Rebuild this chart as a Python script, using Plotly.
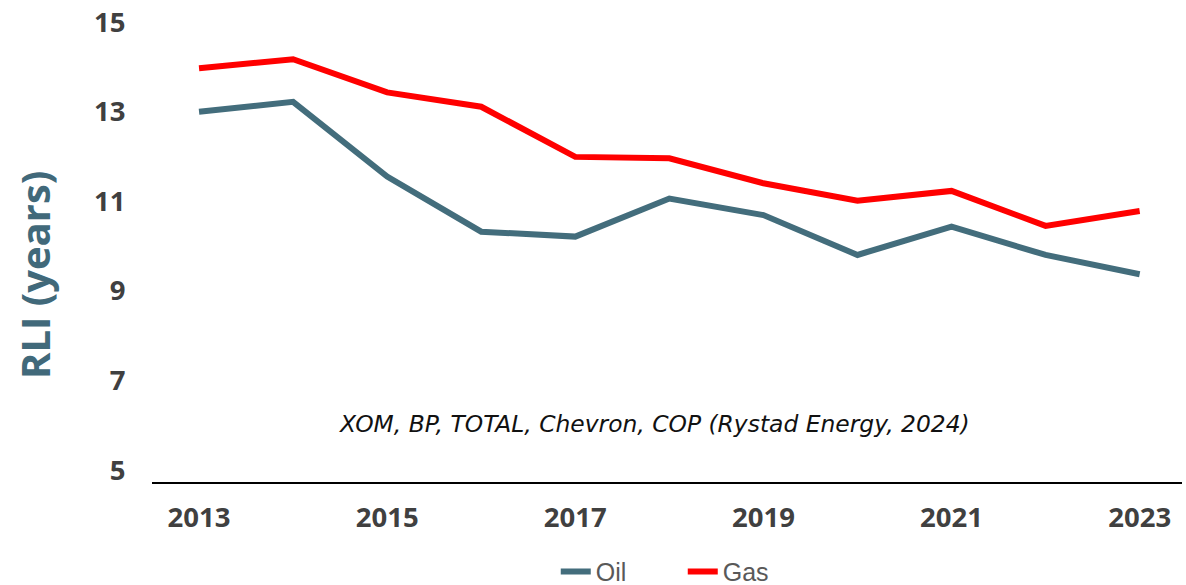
import plotly.graph_objects as go

years = [2013, 2014, 2015, 2016, 2017, 2018, 2019, 2020, 2021, 2022, 2023]
oil = [13.0, 13.22, 11.55, 10.32, 10.21, 11.06, 10.69, 9.80, 10.43, 9.80, 9.37]
gas = [13.97, 14.17, 13.43, 13.11, 11.99, 11.96, 11.40, 11.01, 11.23, 10.45, 10.78]
x_ticks = [2013, 2015, 2017, 2019, 2021, 2023]
y_ticks = [5, 7, 9, 11, 13, 15]
note = "XOM, BP, TOTAL, Chevron, COP (Rystad Energy, 2024)"
y_title = "RLI (years)"

OIL_C = "#436D7C"
GAS_C = "#FF0000"

fig = go.Figure()
fig.add_trace(go.Scatter(x=years, y=oil, mode="lines", name="Oil",
                         line=dict(color=OIL_C, width=6)))
fig.add_trace(go.Scatter(x=years, y=gas, mode="lines", name="Gas",
                         line=dict(color=GAS_C, width=6)))

tickfont = dict(family="Open Sans, Liberation Sans", size=27.5, color="#404040", weight="bold")

fig.update_layout(
    width=1186, height=585,
    margin=dict(l=152, r=4, t=10, b=103, autoexpand=False),
    paper_bgcolor="white", plot_bgcolor="white",
    showlegend=True,
    legend=dict(orientation="h", x=0.392, xanchor="left", y=-0.19, yanchor="middle",
                font=dict(family="Liberation Sans Narrow, Liberation Sans", size=25, color="#595959"),
                entrywidth=82, entrywidthmode="pixels",
                tracegroupgap=0, bgcolor="rgba(0,0,0,0)"),
    xaxis=dict(range=[2012.5, 2023.45], tickvals=x_ticks, showgrid=False, zeroline=False,
               showline=True, linecolor="#000000", linewidth=2, automargin=False,
               ticks="outside", ticklen=10, tickcolor="rgba(0,0,0,0)", tickfont=tickfont,
               ticklabeloverflow="allow"),
    yaxis=dict(range=[4.73, 15.27], tickvals=y_ticks, showgrid=False, zeroline=False,
               showline=False, ticks="outside", ticklen=20, tickcolor="rgba(0,0,0,0)",
               automargin=False, tickfont=tickfont, ticklabeloverflow="allow"),
    annotations=[
        dict(text=note, xref="paper", yref="paper", x=0.488, y=0.123, showarrow=False,
             xanchor="center", yanchor="middle",
             font=dict(family="DejaVu Sans", size=23.4, color="#111111", style="italic")),
        dict(text=y_title, xref="paper", yref="paper", x=-0.1136, y=0.4386, showarrow=False,
             xanchor="center", yanchor="middle", textangle=-90,
             font=dict(family="Open Sans, Liberation Sans", size=40, color="#41697A", weight="bold")),
    ],
)

fig.write_html("out.html", config={"displayModeBar": False},
               post_script="document.body.style.margin='0';")
